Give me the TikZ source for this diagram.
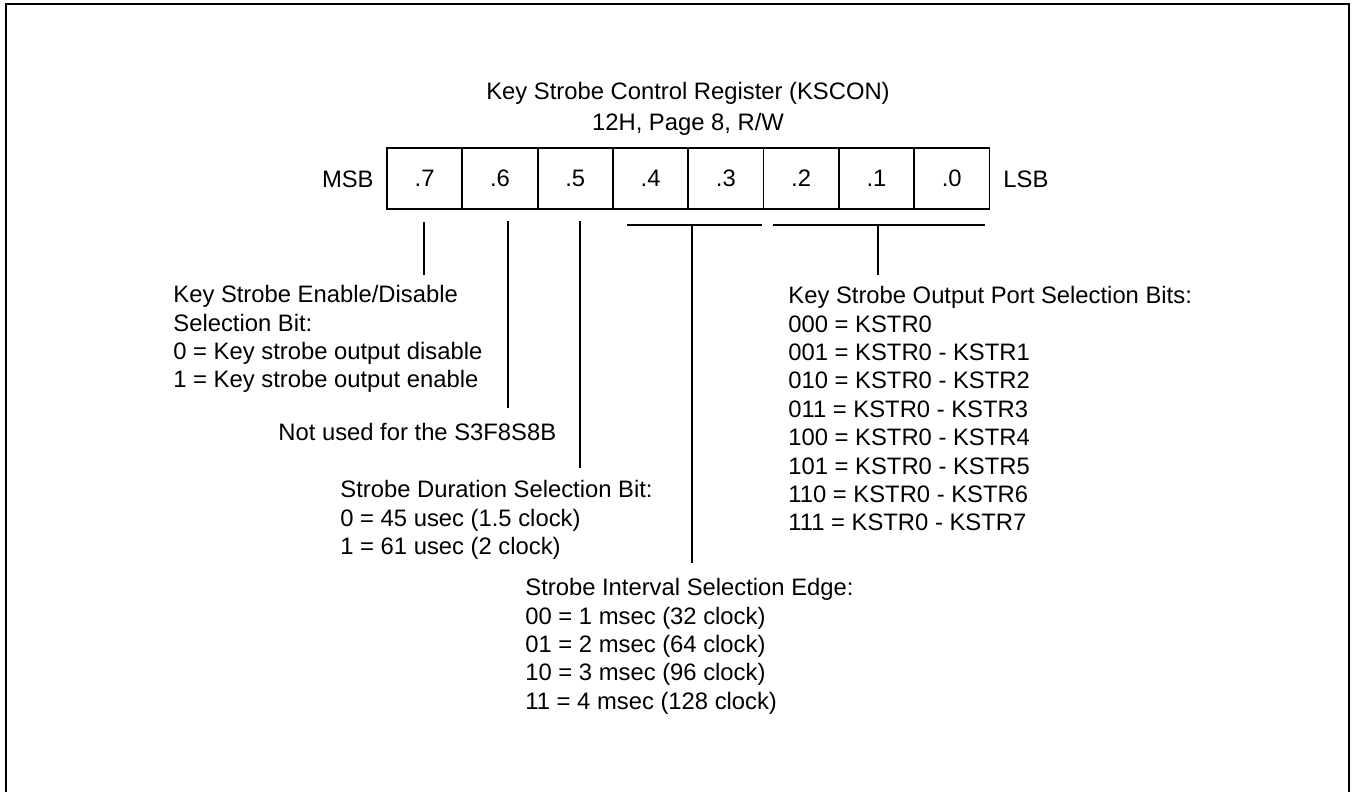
\documentclass[tikz,border=0pt]{standalone}
\usepackage{fontspec}
\setmainfont{Liberation Sans}

\begin{document}
\begin{tikzpicture}[x=0.5pt,y=-0.5pt,
  every node/.style={font=\fontsize{11.9}{14.2}\selectfont, inner sep=0pt},
  cell/.style={draw, line width=0.9pt, minimum width=37.65pt, minimum height=30.5pt, outer sep=0pt},
  txt/.style={anchor=north west, align=left},
  lead/.style={line width=0.9pt}]
  \useasboundingbox (0,0) rectangle (1352,791);
  \clip (0,0) rectangle (1352,791);
  % page frame, bottom edge falls outside the picture
  \draw[line width=1.2pt] (6,800) -- (6,4) -- (1349,4) -- (1349,800);

  \node[anchor=north, align=center] (title) at (688,82)
    {Key Strobe Control Register (KSCON)\\[1pt]12H, Page 8, R/W};

  % register cells, .7 on the left
  \foreach \b [count=\i from 0] in {7,6,5,4,3,2,1,0}
    \node[cell] (b\b) at ({387+75.3*(\i+0.5)},178.5) {.\b};
  \node[anchor=base east] (msb) at (374,188) {MSB};
  \node[anchor=base west] (lsb) at (1003,188) {LSB};

  % leader lines
  \coordinate (l7a) at (424,222);  \coordinate (l7b) at (424,275);
  \coordinate (l6a) at (508,221);  \coordinate (l6b) at (508,408);
  \coordinate (l5a) at (580,221);  \coordinate (l5b) at (580,468);
  \coordinate (g43l) at (627,225); \coordinate (g43r) at (762,225);
  \coordinate (g43m) at (692,225); \coordinate (g43b) at (692,563);
  \coordinate (g20l) at (773,225); \coordinate (g20r) at (985,225);
  \coordinate (g20m) at (878,225); \coordinate (g20b) at (878,275);
  \draw[lead] (l7a) -- (l7b);
  \draw[lead] (l6a) -- (l6b);
  \draw[lead] (l5a) -- (l5b);
  \draw[lead] (g43l) -- (g43r) (g43m) -- (g43b);
  \draw[lead] (g20l) -- (g20r) (g20m) -- (g20b);

  % bit descriptions
  \node[txt] (enable) at (173,285) {Key Strobe Enable/Disable\\Selection Bit:\\0 = Key strobe output disable\\1 = Key strobe output enable};
  \node[anchor=base west] (unused) at (278,440) {Not used for the S3F8S8B};
  \node[txt] (duration) at (340,480) {Strobe Duration Selection Bit:\\0 = 45 usec (1.5 clock)\\1 = 61 usec (2 clock)};
  \node[txt] (interval) at (525,578) {Strobe Interval Selection Edge:\\00 = 1 msec (32 clock)\\01 = 2 msec (64 clock)\\10 = 3 msec (96 clock)\\11 = 4 msec (128 clock)};
  \node[txt] (port) at (788,286) {Key Strobe Output Port Selection Bits:\\000 = KSTR0\\001 = KSTR0 - KSTR1\\010 = KSTR0 - KSTR2\\011 = KSTR0 - KSTR3\\100 = KSTR0 - KSTR4\\101 = KSTR0 - KSTR5\\110 = KSTR0 - KSTR6\\111 = KSTR0 - KSTR7};
\end{tikzpicture}
\end{document}
